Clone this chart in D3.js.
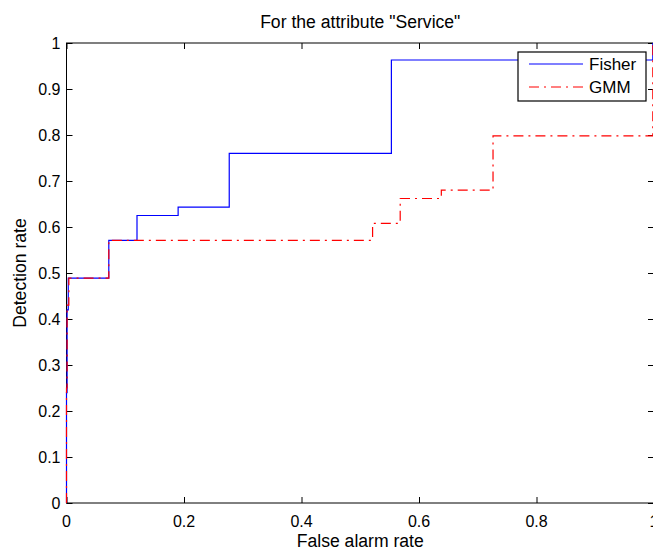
<html>
<head>
<script src="https://d3js.org/d3.v7.min.js"></script>
<style>
body {margin: 0; background: white;}
svg text {font-family: "Liberation Sans", Arial, sans-serif; fill: black;}
</style>
</head>
<body>
<div id="chart"></div>
<script>
// ROC points (false alarm rate, detection rate)
var fisherFpr = [0, 0, 0.001, 0.003, 0.072, 0.120, 0.190, 0.277, 0.553, 0.998];
var fisherTpr = [0, 0.24, 0.42, 0.489, 0.571, 0.625, 0.643, 0.760, 0.963, 1];
var gmmFpr = [0, 0, 0.001, 0.004, 0.072, 0.521, 0.568, 0.638, 0.726, 0.998];
var gmmTpr = [0, 0.25, 0.43, 0.489, 0.571, 0.608, 0.662, 0.680, 0.798, 1];
var xTicks = [0, 0.2, 0.4, 0.6, 0.8, 1];
var yTicks = [0, 0.1, 0.2, 0.3, 0.4, 0.5, 0.6, 0.7, 0.8, 0.9, 1];
var seriesNames = ["Fisher", "GMM"];
var seriesColors = ["#0000ff", "#ff0000"];

var W = 653, H = 551;
// plot box (note: "top" is reserved on window, so use mTop etc.)
var mLeft = 66.5, mTop = 43, mRight = 654, mBottom = 503;
var fs = 16, fsLab = 17.6;

var svg = d3.select("#chart").append("svg").attr("width", W).attr("height", H);

var x = d3.scaleLinear().domain([0, 1]).range([mLeft, mRight]);
var y = d3.scaleLinear().domain([0, 1]).range([mBottom, mTop]);

// inward ticks on all four sides (matlab box)
function tickLines(g, axis) {
  g.call(axis);
  g.select(".domain").remove();
  g.selectAll(".tick line").attr("stroke", "black");
}
svg.append("g").attr("transform", "translate(0," + mBottom + ")")
  .call(tickLines, d3.axisBottom(x).tickValues(xTicks).tickSizeInner(-6).tickSizeOuter(0).tickFormat(""));
svg.append("g").attr("transform", "translate(0," + mTop + ")")
  .call(tickLines, d3.axisTop(x).tickValues(xTicks).tickSizeInner(-6).tickSizeOuter(0).tickFormat(""));
svg.append("g").attr("transform", "translate(" + mLeft + ",0)")
  .call(tickLines, d3.axisLeft(y).tickValues(yTicks).tickSizeInner(-6).tickSizeOuter(0).tickFormat(""));
svg.append("g").attr("transform", "translate(" + mRight + ",0)")
  .call(tickLines, d3.axisRight(y).tickValues(yTicks).tickSizeInner(-6).tickSizeOuter(0).tickFormat(""));

svg.append("rect")
  .attr("x", mLeft).attr("y", mTop)
  .attr("width", mRight - mLeft).attr("height", mBottom - mTop)
  .attr("fill", "none").attr("stroke", "black").attr("stroke-width", 1);

// tick labels
svg.selectAll(".xlab").data(xTicks).enter().append("text")
  .attr("x", function(d) { return x(d); })
  .attr("y", mBottom + 24)
  .attr("text-anchor", "middle")
  .style("font-size", fs + "px")
  .text(function(d) { return d3.format("~g")(d); });

svg.selectAll(".ylab").data(yTicks).enter().append("text")
  .attr("x", mLeft - 6)
  .attr("y", function(d) { return y(d) + 6; })
  .attr("text-anchor", "end")
  .style("font-size", fs + "px")
  .text(function(d) { return d3.format("~g")(d); });

// curves
var fisher = fisherFpr.map(function(d, i) { return [d, fisherTpr[i]]; });
var gmm = gmmFpr.map(function(d, i) { return [d, gmmTpr[i]]; });

var line = d3.line()
  .x(function(d) { return x(d[0]); })
  .y(function(d) { return y(d[1]); })
  .curve(d3.curveStepAfter);

svg.append("path").datum(fisher)
  .attr("d", line)
  .attr("fill", "none")
  .attr("stroke", seriesColors[0])
  .attr("stroke-width", 1.2);

svg.append("path").datum(gmm)
  .attr("d", line)
  .attr("fill", "none")
  .attr("stroke", seriesColors[1])
  .attr("stroke-width", 1.2)
  .attr("stroke-dasharray", "10,5,2,5");

// legend
var lg = svg.append("g");
lg.append("rect")
  .attr("x", 518).attr("y", 52).attr("width", 128).attr("height", 49)
  .attr("fill", "white").attr("stroke", "black").attr("stroke-width", 1.2);
seriesNames.forEach(function(name, i) {
  var ly = 64 + i * 23;
  lg.append("line")
    .attr("x1", 529).attr("x2", 583).attr("y1", ly).attr("y2", ly)
    .attr("stroke", seriesColors[i]).attr("stroke-width", 1.2)
    .attr("stroke-dasharray", i == 1 ? "10,5,2,5" : null);
  lg.append("text")
    .attr("x", 589).attr("y", ly + 6)
    .style("font-size", "17px")
    .text(name);
});

// titles
svg.append("text")
  .attr("x", (mLeft + mRight) / 2).attr("y", 28)
  .attr("text-anchor", "middle")
  .style("font-size", fsLab + "px")
  .text('For the attribute "Service"');

svg.append("text")
  .attr("x", (mLeft + mRight) / 2).attr("y", 547)
  .attr("text-anchor", "middle")
  .style("font-size", fsLab + "px")
  .text("False alarm rate");

svg.append("text")
  .attr("transform", "translate(26," + (mTop + mBottom) / 2 + ") rotate(-90)")
  .attr("text-anchor", "middle")
  .style("font-size", fsLab + "px")
  .text("Detection rate");
</script>
</body>
</html>
